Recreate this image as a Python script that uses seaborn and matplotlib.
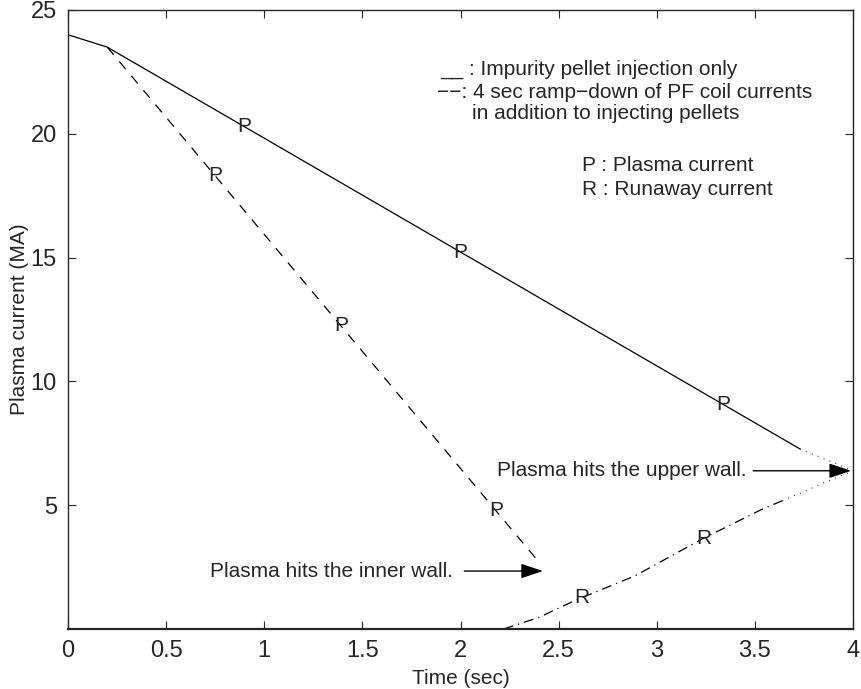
import matplotlib
matplotlib.use("Agg")
import matplotlib.pyplot as plt
import seaborn as sns
import numpy as np

# pellet injection only (solid), then dotted to the upper wall
t_pellet = [0.0, 0.2, 3.73]
i_pellet = [24.0, 23.5, 7.27]
t_pellet_end = [3.73, 4.0]
i_pellet_end = [7.27, 6.4]

# 4 sec ramp-down of PF coil currents + pellets (dashed)
t_ramp = [0.2, 2.4]
i_ramp = [23.5, 2.7]

# runaway current (dash-dot), then dotted to the upper wall
t_run = [2.22, 2.40, 2.58, 2.89, 3.23, 3.54, 3.64]
i_run = [0.0, 0.47, 1.14, 2.15, 3.63, 4.85, 5.18]
t_run_end = [3.64, 4.0]
i_run_end = [5.18, 6.4]

# letter labels sitting on the curves
p_solid_t = [0.9, 2.0, 3.34]
p_dash_t = [0.75, 1.39, 2.18]
r_t = [2.62, 3.24]

x_ticks = [0, 0.5, 1, 1.5, 2, 2.5, 3, 3.5, 4]
x_ticklabels = ["0", "0.5", "1", "1.5", "2", "2.5", "3", "3.5", "4"]
y_ticks = [5, 10, 15, 20, 25]

sns.set_style("ticks")
plt.rcParams["font.family"] = ["Liberation Sans", "DejaVu Sans"]
plt.rcParams["xtick.direction"] = "in"
plt.rcParams["ytick.direction"] = "in"

fig = plt.figure(figsize=(8.62, 6.89), dpi=100)
ax = fig.add_axes([0.0789, 0.0871, 0.9107, 0.8984])

lw = 0.9
sns.lineplot(x=t_pellet, y=i_pellet, color="black", linewidth=lw, sort=False, ax=ax)
sns.lineplot(x=t_pellet_end, y=i_pellet_end, color="black", linewidth=lw,
             linestyle=(0, (0.6, 4.5)), sort=False, ax=ax)
sns.lineplot(x=t_ramp, y=i_ramp, color="black", linewidth=lw,
             linestyle=(0, (8, 7)), sort=False, ax=ax)
sns.lineplot(x=t_run, y=i_run, color="black", linewidth=lw,
             linestyle=(0, (8, 4, 1, 4)), sort=False, ax=ax)
sns.lineplot(x=t_run_end, y=i_run_end, color="black", linewidth=lw,
             linestyle=(0, (0.6, 4.5)), sort=False, ax=ax)

fs = 15
for t in p_solid_t:
    ax.text(t, np.interp(t, t_pellet, i_pellet), "P", fontsize=fs,
            ha="center", va="center")
for t in p_dash_t:
    ax.text(t, np.interp(t, t_ramp, i_ramp), "P", fontsize=fs,
            ha="center", va="center")
for t in r_t:
    ax.text(t, np.interp(t, t_run, i_run), "R", fontsize=fs,
            ha="center", va="center")

ax.annotate("Plasma hits the inner wall.", xy=(2.42, 2.34), xytext=(1.96, 2.34),
            fontsize=fs, ha="right", va="center",
            arrowprops=dict(arrowstyle="-|>,head_length=0.9,head_width=0.3",
                            color="black", lw=1.0, shrinkA=6, shrinkB=0))
ax.annotate("Plasma hits the upper wall.", xy=(3.99, 6.39), xytext=(3.46, 6.39),
            fontsize=fs, ha="right", va="center",
            arrowprops=dict(arrowstyle="-|>,head_length=0.9,head_width=0.3",
                            color="black", lw=1.0, shrinkA=2, shrinkB=0))

ax.text(1.896, 22.6, "__ : Impurity pellet injection only", fontsize=fs, va="center")
ax.text(1.88, 21.68, "\u2212\u2212: 4 sec ramp\u2212down of PF coil currents",
        fontsize=fs, va="center")
ax.text(2.06, 20.8, "in addition to injecting pellets", fontsize=fs, va="center")
ax.text(2.62, 18.7, "P : Plasma current", fontsize=fs, va="center")
ax.text(2.62, 17.77, "R : Runaway current", fontsize=fs, va="center")

ax.set_xlim(0, 4)
ax.set_ylim(0, 25)
ax.set_xticks(x_ticks)
ax.set_xticklabels(x_ticklabels)
ax.set_yticks(y_ticks)
ax.tick_params(axis="both", labelsize=17, length=6, width=0.8,
               top=True, right=True, pad=8)
ax.set_xlabel("Time (sec)", fontsize=15, labelpad=5)
ax.set_ylabel("Plasma current (MA)", fontsize=15, labelpad=1)
for side in ["top", "right", "left"]:
    ax.spines[side].set_visible(True)
    ax.spines[side].set_linewidth(1.0)
ax.spines["bottom"].set_linewidth(1.6)

fig.savefig("out.png", dpi=100)
plt.close(fig)
